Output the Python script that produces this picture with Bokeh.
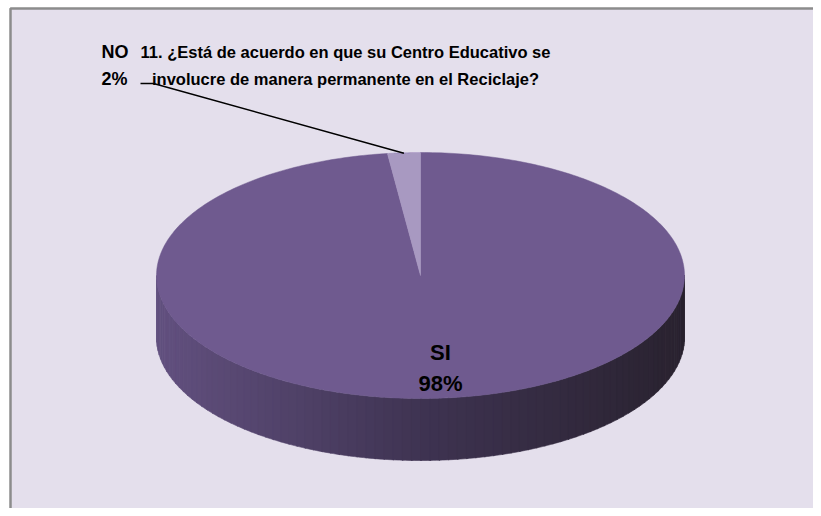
import numpy as np
from bokeh.plotting import figure
from bokeh.models import Range1d
from bokeh.core.properties import value
from bokeh.embed import file_html
from bokeh.resources import INLINE

# ---- data ----
categories = ["SI", "NO"]
values = [98, 2]
pct_labels = ["98%", "2%"]
title_lines = ["11. ¿Está de acuerdo en que su Centro Educativo se",
               "involucre de manera permanente en el Reciclaje?"]

W, H = 813, 508
BG = "#E4DFEC"
FONT = value("'Liberation Sans', Arial, sans-serif")

p = figure(width=W, height=H, output_backend="svg", toolbar_location=None,
           x_range=Range1d(0, W), y_range=Range1d(H, 0), min_border=0)
p.axis.visible = False
p.grid.visible = False
p.outline_line_color = None
p.background_fill_color = "white"
p.border_fill_color = "white"

# chart area background and frame (only top and left edges are in view)
p.quad(left=10, right=W + 20, top=8, bottom=H + 20, fill_color=BG, line_color=None)
p.line([10, 10, W + 20], [H + 20, 8, 8], line_color="#8C8C8C", line_width=2.5)

# pie geometry (pixels)
cx, cy, rx, ry, depth = 420, 275, 264, 123, 62

def ept(t, dy=0.0):
    return cx + rx * np.cos(t), cy - ry * np.sin(t) + dy

total = float(sum(values))
no_frac = values[1] / total
a_top = np.pi / 2
a_no_end = a_top + 2 * np.pi * no_frac

def lerp(c1, c2, f):
    a = [int(c1[i:i + 2], 16) for i in (1, 3, 5)]
    b = [int(c2[i:i + 2], 16) for i in (1, 3, 5)]
    return "#%02x%02x%02x" % tuple(int(round(a[k] + (b[k] - a[k]) * f)) for k in range(3))

# side of the disc (front half) as gradient strips
N = 90
ts = np.linspace(np.pi, 2 * np.pi, N + 1)
xs_list, ys_list, cols = [], [], []
for i in range(N):
    tt = np.linspace(ts[i], ts[i + 1] + 0.004, 4)
    x1, y1 = ept(tt)
    x2, y2 = ept(tt[::-1], depth)
    xs_list.append(list(np.concatenate([x1, x2])))
    ys_list.append(list(np.concatenate([y1, y2])))
    f = (np.cos(ts[i]) + 1) / 2
    if f < 0.5:
        c = lerp("#62507F", "#3E3351", f / 0.5)
    else:
        c = lerp("#3E3351", "#29222F", (f - 0.5) / 0.5)
    cols.append(c)
p.patches(xs_list, ys_list, fill_color=cols, line_color=cols, line_width=0.6)

# top faces
def wedge(a0, a1):
    tt = np.linspace(a0, a1, 400)
    x, y = ept(tt)
    return [cx] + list(x) + [cx], [cy] + list(y) + [cy]

sx, sy = wedge(a_no_end, a_top + 2 * np.pi)
p.patch(sx, sy, fill_color="#6F5A8F", line_color="#6F5A8F", line_width=0.5)
nx, ny = wedge(a_top, a_no_end)
p.patch(nx, ny, fill_color="#A899C1", line_color="#A899C1", line_width=0.5)

# leader line for the NO label
mid = (a_top + a_no_end) / 2
lx, ly = ept(mid)
p.line([140, 153, lx], [83, 83, ly + 0.5], line_color="black", line_width=1.5)

# title
tcx = 345
p.text(x=[tcx, tcx], y=[51, 78], text=title_lines, text_font=FONT,
       text_font_size="16.5px", text_font_style="bold", text_align="center",
       text_baseline="alphabetic", text_color="black")

# data labels
p.text(x=[101, 101], y=[51, 78], text=[categories[1], pct_labels[1]], text_font=FONT,
       text_font_size="18px", text_font_style="bold", text_align="left",
       text_baseline="alphabetic", text_color="black")
p.text(x=[440, 440], y=[352, 383], text=[categories[0], pct_labels[0]], text_font=FONT,
       text_font_size="22px", text_font_style="bold", text_align="center",
       text_baseline="alphabetic", text_color="black")

open("out.html", "w").write(file_html(p, INLINE))
